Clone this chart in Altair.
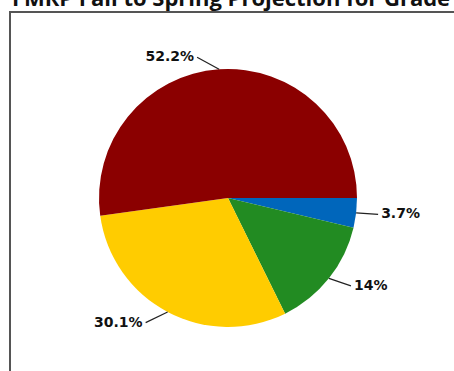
import altair as alt
import pandas as pd

# Data (order: clockwise from 3 o'clock)
categories = ["D", "C", "B", "A"]
values = [3.7, 14.0, 30.1, 52.2]
labels = ["3.7%", "14%", "30.1%", "52.2%"]
colors = ["#0066BB", "#228B22", "#FFCC00", "#8B0000"]
order = [1, 2, 3, 4]
title_text = "FMRP Fall to Spring Projection for Grade 3"

df = pd.DataFrame({"cat": categories, "value": values, "label": labels, "ord": order})

W, H = 454, 371
CX, CY, R = 228, 198, 129
PI = 3.141592653589793

base = alt.Chart(df)

frame = alt.Chart(alt.Data(values=[{"a": 1}])).mark_rect(
    fill=None, stroke="#555555", strokeWidth=2
).encode(x=alt.value(10), y=alt.value(12), x2=alt.value(520), y2=alt.value(450))

pie = base.mark_arc(outerRadius=R, stroke=None).encode(
    theta=alt.Theta("value:Q", stack=True, scale=alt.Scale(range=[PI / 2, PI / 2 + 2 * PI])),
    color=alt.Color("cat:N", scale=alt.Scale(domain=categories, range=colors), legend=None),
    order=alt.Order("ord:Q"),
    x=alt.value(CX),
    y=alt.value(CY),
)

geo = base.transform_window(
    cum="sum(value)", sort=[alt.SortField("ord")], frame=[None, 0]
).transform_joinaggregate(total="sum(value)").transform_calculate(
    a=f"{PI}/2 + 2*{PI}*(datum.cum - datum.value/2)/datum.total"
).transform_calculate(
    ex=f"{CX} + {R}*sin(datum.a)",
    ey=f"{CY} - {R}*cos(datum.a)",
    side="sin(datum.a) >= 0 ? 1 : -1",
).transform_calculate(
    lx="datum.ex + datum.side*22",
    ly="datum.ey - 12*cos(datum.a)",
).transform_calculate(
    tx="datum.lx + datum.side*3",
)

rules = geo.mark_rule(color="#222222", strokeWidth=1.2).encode(
    x=alt.X("ex:Q", scale=None),
    y=alt.Y("ey:Q", scale=None),
    x2="lx:Q",
    y2="ly:Q",
)

text_style = dict(font="DejaVu Sans", fontWeight="bold", fontSize=14, color="#111111", baseline="middle")
txt_right = geo.transform_filter("datum.side > 0").mark_text(align="left", **text_style).encode(
    x=alt.X("tx:Q", scale=None), y=alt.Y("ly:Q", scale=None), text="label:N"
)
txt_left = geo.transform_filter("datum.side < 0").mark_text(align="right", **text_style).encode(
    x=alt.X("tx:Q", scale=None), y=alt.Y("ly:Q", scale=None), text="label:N"
)

title = alt.Chart(alt.Data(values=[{"a": 1}])).mark_text(
    font="Open Sans", fontWeight="bold", fontSize=22, align="left", baseline="alphabetic", color="#111111"
).encode(x=alt.value(12), y=alt.value(6), text=alt.value(title_text))

chart = alt.layer(frame, pie, rules, txt_right, txt_left, title).properties(
    width=W, height=H, padding=0, autosize=alt.AutoSizeParams(type="none")
).configure_view(stroke=None)

chart.save("out.html", embed_options={"renderer": "svg", "actions": False})
